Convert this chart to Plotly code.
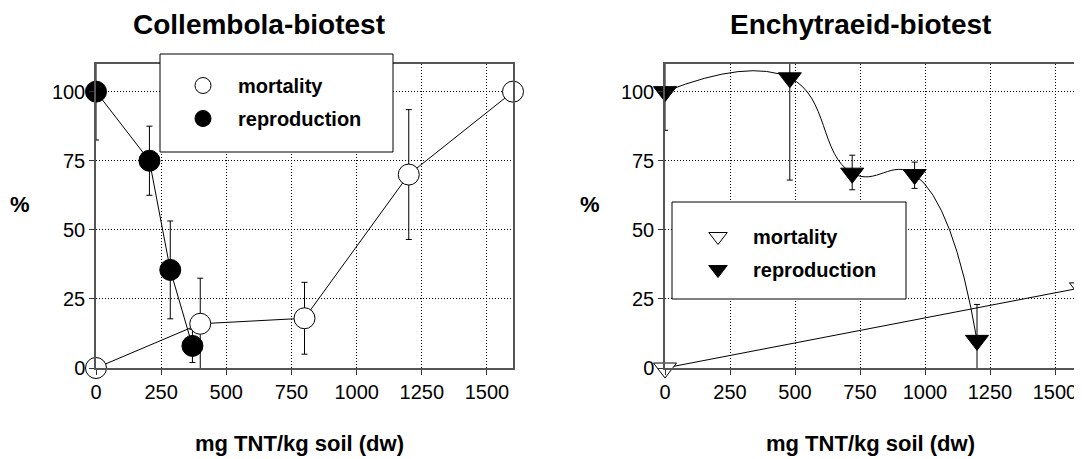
import plotly.graph_objects as go

# ---------------- data ----------------
col_mort_x = [0, 400, 800, 1200, 1600]
col_mort_y = [0, 16, 18, 70, 100]
col_mort_err = [0, 16.5, 13, 23.5, 0]

col_repr_x = [0, 205, 285, 370]
col_repr_y = [100, 75, 35.5, 8]
col_repr_err = [17.5, 12.5, 17.7, 6]

enc_mort_x = [0, 1600]
enc_mort_y = [0, 29]
enc_mort_err = [0, 10]

enc_repr_x = [0, 480, 720, 960, 1200]
enc_repr_y = [100, 105, 70.5, 70, 10]
enc_repr_err_plus = [14, 37, 6.5, 4.5, 13]
enc_repr_err_minus = [14, 37, 6, 5, 13]

x_ticks = [0, 250, 500, 750, 1000, 1250, 1500]
y_ticks = [0, 25, 50, 75, 100]

titles = ["Collembola-biotest", "Enchytraeid-biotest"]
x_title = "mg TNT/kg soil (dw)"
y_title = "%"
names = ["mortality", "reproduction"]

# ---------------- layout constants ----------------
PAGE_W, PAGE_H = 1082, 459
OFF = 8  # default body margin of the html page
W, H = PAGE_W - OFF, PAGE_H - OFF
FONT = "Arial, Liberation Sans, sans-serif"


def px(x):
    """page pixel x -> paper fraction"""
    return (x - OFF) / W


def py(y):
    """page pixel y -> paper fraction"""
    return 1 - (y - OFF) / H


fig = go.Figure()

errstyle = dict(color="black", thickness=1, width=3)


def err_trace(x, y, plus, minus, xa, ya):
    return go.Scatter(
        x=x, y=y, mode="markers", marker=dict(size=1, opacity=0),
        error_y=dict(type="data", array=plus, arrayminus=minus, symmetric=False, **errstyle),
        xaxis=xa, yaxis=ya, showlegend=False, cliponaxis=True, hoverinfo="skip",
    )


def line_trace(x, y, xa, ya, shape="linear", smoothing=1):
    return go.Scatter(
        x=x, y=y, mode="lines", line=dict(color="black", width=1, shape=shape, smoothing=smoothing),
        xaxis=xa, yaxis=ya, showlegend=False, cliponaxis=False, hoverinfo="skip",
    )


def marker_trace(x, y, name, symbol, fill, size, xa, ya, legend, group):
    return go.Scatter(
        x=x, y=y, mode="markers", name=name,
        marker=dict(symbol=symbol, size=size, color=fill, line=dict(color="black", width=1)),
        xaxis=xa, yaxis=ya, cliponaxis=False, legend=legend, legendgroup=group,
    )


# Left chart
fig.add_trace(err_trace(col_mort_x, col_mort_y, col_mort_err, col_mort_err, "x", "y"))
fig.add_trace(err_trace(col_repr_x, col_repr_y, col_repr_err, col_repr_err, "x", "y"))
fig.add_trace(line_trace(col_mort_x, col_mort_y, "x", "y"))
fig.add_trace(line_trace(col_repr_x, col_repr_y, "x", "y"))
fig.add_trace(marker_trace(col_mort_x, col_mort_y, names[0], "circle", "white", 21, "x", "y", "legend", "a"))
fig.add_trace(marker_trace(col_repr_x, col_repr_y, names[1], "circle", "black", 21, "x", "y", "legend", "b"))

# Right chart
fig.add_trace(err_trace(enc_mort_x, enc_mort_y, enc_mort_err, enc_mort_err, "x2", "y2"))
fig.add_trace(err_trace(enc_repr_x, enc_repr_y, enc_repr_err_plus, enc_repr_err_minus, "x2", "y2"))
fig.add_trace(line_trace(enc_mort_x, enc_mort_y, "x2", "y2"))
fig.add_trace(line_trace(enc_repr_x, enc_repr_y, "x2", "y2", shape="spline", smoothing=1.3))
fig.add_trace(marker_trace(enc_mort_x, enc_mort_y, names[0], "triangle-down", "white", 20, "x2", "y2", "legend2", "c"))
fig.add_trace(marker_trace(enc_repr_x, enc_repr_y, names[1], "triangle-down", "black", 20, "x2", "y2", "legend2", "d"))

axis_common = dict(
    showline=True, mirror=True, linecolor="#555555", linewidth=1.5,
    showgrid=True, gridcolor="black", gridwidth=1, griddash="1px,2px",
    zeroline=False, ticks="outside", ticklen=5, tickcolor="#333333",
    tickfont=dict(family=FONT, size=20, color="black"),
    automargin=False,
)

xdom1 = [px(96), px(513)]
xdom2 = [px(665), px(1081)]
ydom = [py(368), py(64)]

legend_common = dict(
    xanchor="left", yanchor="top",
    bgcolor="rgba(0,0,0,0)", borderwidth=0,
    font=dict(family=FONT, size=20, color="black", weight="bold"),
    itemwidth=60, tracegroupgap=4, traceorder="grouped",
)

fig.update_layout(
    template="none",
    width=W, height=H,
    margin=dict(l=0, r=0, t=0, b=0, pad=0, autoexpand=False),
    paper_bgcolor="white", plot_bgcolor="white",
    showlegend=True,
    xaxis=dict(domain=xdom1, range=[0, 1600], tickvals=x_ticks, anchor="y", **axis_common),
    yaxis=dict(domain=ydom, range=[0, 110], tickvals=y_ticks, anchor="x", **axis_common),
    xaxis2=dict(domain=xdom2, range=[0, 1600], tickvals=x_ticks, anchor="y2", **axis_common),
    yaxis2=dict(domain=ydom, range=[0, 110], tickvals=y_ticks, anchor="x2", **axis_common),
    legend=dict(x=px(168), y=py(66), **legend_common),
    legend2=dict(x=px(683), y=py(217), **legend_common),
    shapes=[
        dict(type="rect", xref="paper", yref="paper",
             x0=px(160), x1=px(393), y0=py(152), y1=py(54),
             fillcolor="white", line=dict(color="black", width=1), layer="above"),
        dict(type="rect", xref="paper", yref="paper",
             x0=px(672), x1=px(906), y0=py(299), y1=py(202),
             fillcolor="white", line=dict(color="black", width=1), layer="above"),
    ],
)

ann_font_title = dict(family=FONT, size=28, color="black", weight="bold")
ann_font_ax = dict(family=FONT, size=22, color="black", weight="bold")
annotations = [
    dict(text=titles[0], x=px(259), y=py(24), font=ann_font_title),
    dict(text=titles[1], x=px(860), y=py(24), font=ann_font_title),
    dict(text=y_title, x=px(20), y=py(205), font=ann_font_ax),
    dict(text=y_title, x=px(590), y=py(205), font=ann_font_ax),
    dict(text=x_title, x=px(299), y=py(443), font=ann_font_ax),
    dict(text=x_title, x=px(870), y=py(443), font=ann_font_ax),
]
for a in annotations:
    a.update(xref="paper", yref="paper", showarrow=False, xanchor="center", yanchor="middle")
fig.update_layout(annotations=annotations)

fig.write_html("out.html")
